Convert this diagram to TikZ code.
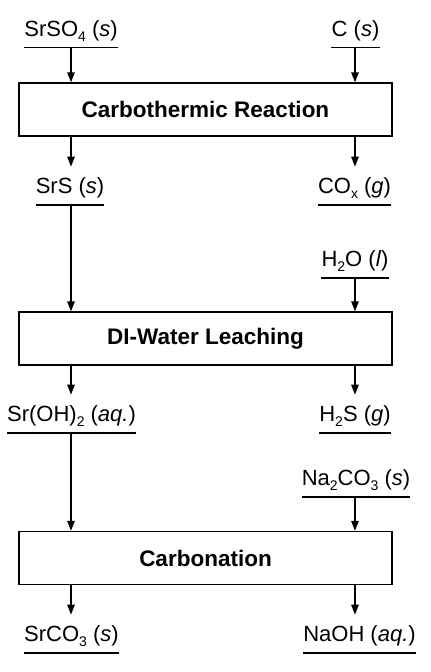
\documentclass[tikz,border=0pt]{standalone}
\usepackage{fontspec}
\setmainfont{Liberation Sans}
\usetikzlibrary{arrows.meta}
\newcommand{\chemsub}[1]{\raisebox{-0.22em}{\fontsize{14}{14}\selectfont #1}}
\begin{document}
\begin{tikzpicture}[x=1pt,y=-1pt,
  proc/.style={draw, line width=1.5pt, minimum width=373pt, minimum height=53pt, inner sep=0pt,
    font=\fontsize{22.5}{26}\selectfont\bfseries},
  lab/.style={inner xsep=0pt, inner ysep=0pt, text depth=11pt, anchor=south,
    font=\fontsize{22}{26}\selectfont},
  uline/.style={line width=1.3pt},
  flow/.style={line width=1.5pt, -{Triangle[length=10pt,width=7.5pt]}},
  outflow/.style={flow, shorten >=11pt}]
\useasboundingbox (0,0) rectangle (431,672);
\coordinate (L) at (71,0);
\coordinate (R) at (355,0);
\node[proc] (b1) at (205.5,109.5) {Carbothermic Reaction};
\node[proc] (b2) at (205.5,338.5) {DI-Water Leaching};
\node[proc] (b3) at (205.5,558) {Carbonation};
\node[lab] (srso4) at (71,47.5) {SrSO\chemsub{4} (\textit{s})};
\node[lab] (c) at (355.5,47.5) {C (\textit{s})};
\node[lab] (srs) at (70,205) {SrS (\textit{s})};
\node[lab] (cox) at (354.5,205) {CO\chemsub{x} (\textit{g})};
\node[lab] (h2o) at (355,278) {H\chemsub{2}O (\textit{l})};
\node[lab] (sroh) at (71.5,433) {Sr(OH)\chemsub{2} (\textit{aq.})};
\node[lab] (h2s) at (355,433) {H\chemsub{2}S (\textit{g})};
\node[lab] (na2co3) at (356,497) {Na\chemsub{2}CO\chemsub{3} (\textit{s})};
\node[lab] (srco3) at (71.5,653) {SrCO\chemsub{3} (\textit{s})};
\node[lab] (naoh) at (359.5,653) {NaOH (\textit{aq.})};
\foreach \n in {srso4,c,srs,cox,h2o,sroh,h2s,na2co3,srco3,naoh}
  \draw[uline] (\n.south west) -- (\n.south east);
% inputs
\draw[flow] (srso4.south -| L) -- (b1.north -| L);
\draw[flow] (c.south -| R) -- (b1.north -| R);
\draw[flow] (srs.south -| L) -- (b2.north -| L);
\draw[flow] (h2o.south -| R) -- (b2.north -| R);
\draw[flow] (sroh.south -| L) -- (b3.north -| L);
\draw[flow] (na2co3.south -| R) -- (b3.north -| R);
% outputs
\draw[outflow] (b1.south -| L) -- (srs.north -| L);
\draw[outflow] (b1.south -| R) -- (cox.north -| R);
\draw[outflow] (b2.south -| L) -- (sroh.north -| L);
\draw[outflow] (b2.south -| R) -- (h2s.north -| R);
\draw[outflow] (b3.south -| L) -- (srco3.north -| L);
\draw[outflow] (b3.south -| R) -- (naoh.north -| R);
\end{tikzpicture}
\end{document}
